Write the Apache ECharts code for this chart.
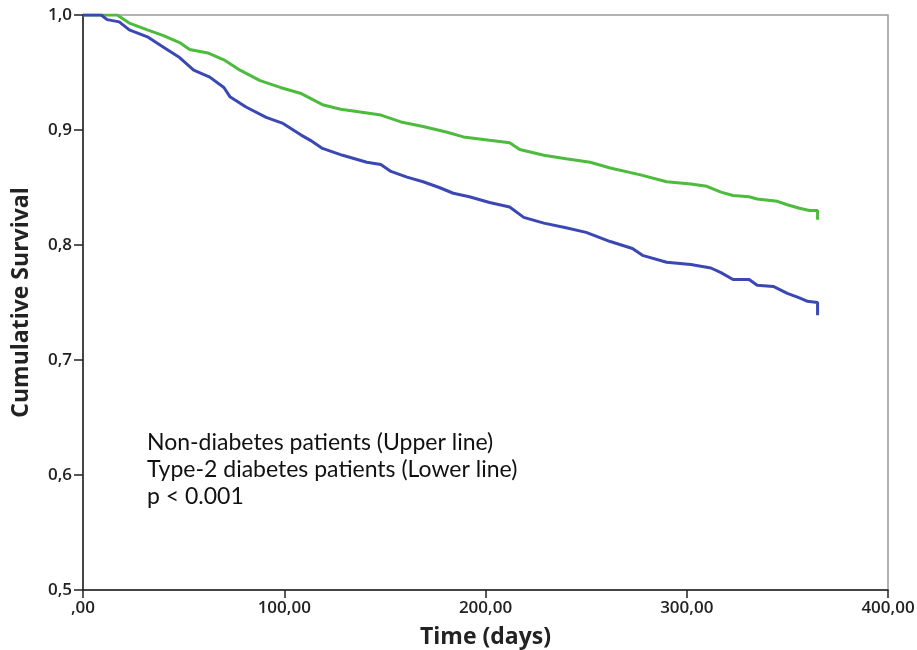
<!DOCTYPE html>
<html>
<head>
<meta charset="utf-8">
<script src="https://cdn.jsdelivr.net/npm/echarts@6/dist/echarts.min.js"></script>
<style>
  html, body { margin: 0; padding: 0; background: #fff; }
  #chart { width: 917px; height: 650px; }
</style>
</head>
<body>
<div id="chart"></div>
<script>
// Kaplan-Meier estimates: [day, cumulative survival]
const nonDiabetes = [
  [0, 1.0], [17, 1.0], [23, 0.993], [32, 0.987], [40, 0.982], [48, 0.976], [53, 0.970],
  [62, 0.967], [70, 0.961], [78, 0.952], [88, 0.943], [98, 0.937], [108, 0.932],
  [119, 0.922], [128, 0.918], [136, 0.916], [148, 0.913], [158, 0.907], [169, 0.903],
  [181, 0.898], [189, 0.894], [202, 0.891], [212, 0.889], [217, 0.883], [229, 0.878],
  [240, 0.875], [252, 0.872], [262, 0.867], [277, 0.861], [290, 0.855], [302, 0.853],
  [310, 0.851], [317, 0.846], [323, 0.843], [331, 0.842], [335, 0.840], [345, 0.838],
  [350, 0.835], [356, 0.832], [361, 0.830], [365, 0.830], [365, 0.822]
];
const type2Diabetes = [
  [0, 1.0], [9, 1.0], [12, 0.996], [18, 0.994], [23, 0.987], [32, 0.981], [40, 0.972],
  [48, 0.963], [55, 0.952], [63, 0.946], [70, 0.937], [73, 0.929], [81, 0.920],
  [91, 0.911], [99, 0.906], [108, 0.896], [113, 0.891], [119, 0.884], [129, 0.878],
  [141, 0.872], [148, 0.870], [153, 0.864], [161, 0.859], [169, 0.855], [177, 0.850],
  [184, 0.845], [192, 0.842], [202, 0.837], [212, 0.833], [219, 0.824], [229, 0.819],
  [240, 0.815], [250, 0.811], [262, 0.803], [273, 0.797], [278, 0.791], [290, 0.785],
  [302, 0.783], [312, 0.780], [317, 0.776], [323, 0.770], [331, 0.770], [335, 0.765],
  [343, 0.764], [350, 0.758], [356, 0.754], [360, 0.751], [365, 0.750], [365, 0.739]
];
const noteLines = [
  'Non-diabetes patients (Upper line)',
  'Type-2 diabetes patients (Lower line)',
  'p < 0.001'
];

const chart = echarts.init(document.getElementById('chart'));

const tickFont = {
  color: '#222',
  fontFamily: 'Open Sans',
  fontWeight: 600,
  fontSize: 17
};

const option = {
  backgroundColor: '#fff',
  animation: false,
  grid: {
    left: 83,
    right: 29,
    top: 15,
    bottom: 60,
    containLabel: false,
    outerBoundsMode: 'none',
    show: true,
    borderColor: '#999',
    borderWidth: 1.5
  },
  xAxis: {
    type: 'value',
    min: 0,
    max: 400,
    interval: 100,
    name: 'Time (days)',
    nameLocation: 'middle',
    nameGap: 36,
    nameTextStyle: { color: '#222', fontFamily: 'Open Sans', fontWeight: 'bold', fontSize: 23 },
    axisLine: { onZero: false, lineStyle: { color: '#222', width: 1.5 } },
    axisTick: { show: true, length: 8, lineStyle: { color: '#222', width: 1.5 } },
    axisLabel: {
      ...tickFont,
      margin: 10,
      formatter: v => (v === 0 ? ',00' : v.toFixed(2).replace('.', ','))
    },
    splitLine: { show: false }
  },
  yAxis: {
    type: 'value',
    min: 0.5,
    max: 1.0,
    interval: 0.1,
    name: 'Cumulative Survival',
    nameLocation: 'middle',
    nameGap: 50,
    nameTextStyle: { color: '#222', fontFamily: 'Open Sans', fontWeight: 'bold', fontSize: 23 },
    axisLine: { onZero: false, lineStyle: { color: '#222', width: 1.5 } },
    axisTick: { show: true, length: 9, lineStyle: { color: '#222', width: 1.5 } },
    axisLabel: {
      ...tickFont,
      margin: 11,
      formatter: v => v.toFixed(1).replace('.', ',')
    },
    splitLine: { show: false }
  },
  series: [
    {
      name: 'Non-diabetes',
      type: 'line',
      showSymbol: false,
      data: nonDiabetes,
      lineStyle: { color: '#4dbb3d', width: 3 },
      itemStyle: { color: '#4dbb3d' }
    },
    {
      name: 'Type-2 diabetes',
      type: 'line',
      showSymbol: false,
      data: type2Diabetes,
      lineStyle: { color: '#3b48b4', width: 3 },
      itemStyle: { color: '#3b48b4' }
    }
  ],
  graphic: [{
    type: 'text',
    left: 147,
    top: 429,
    style: {
      text: noteLines.join('\n'),
      fill: '#111',
      font: '23px Lato',
      lineHeight: 27
    }
  }]
};

chart.setOption(option);
window.addEventListener('resize', () => chart.resize());
</script>
</body>
</html>
